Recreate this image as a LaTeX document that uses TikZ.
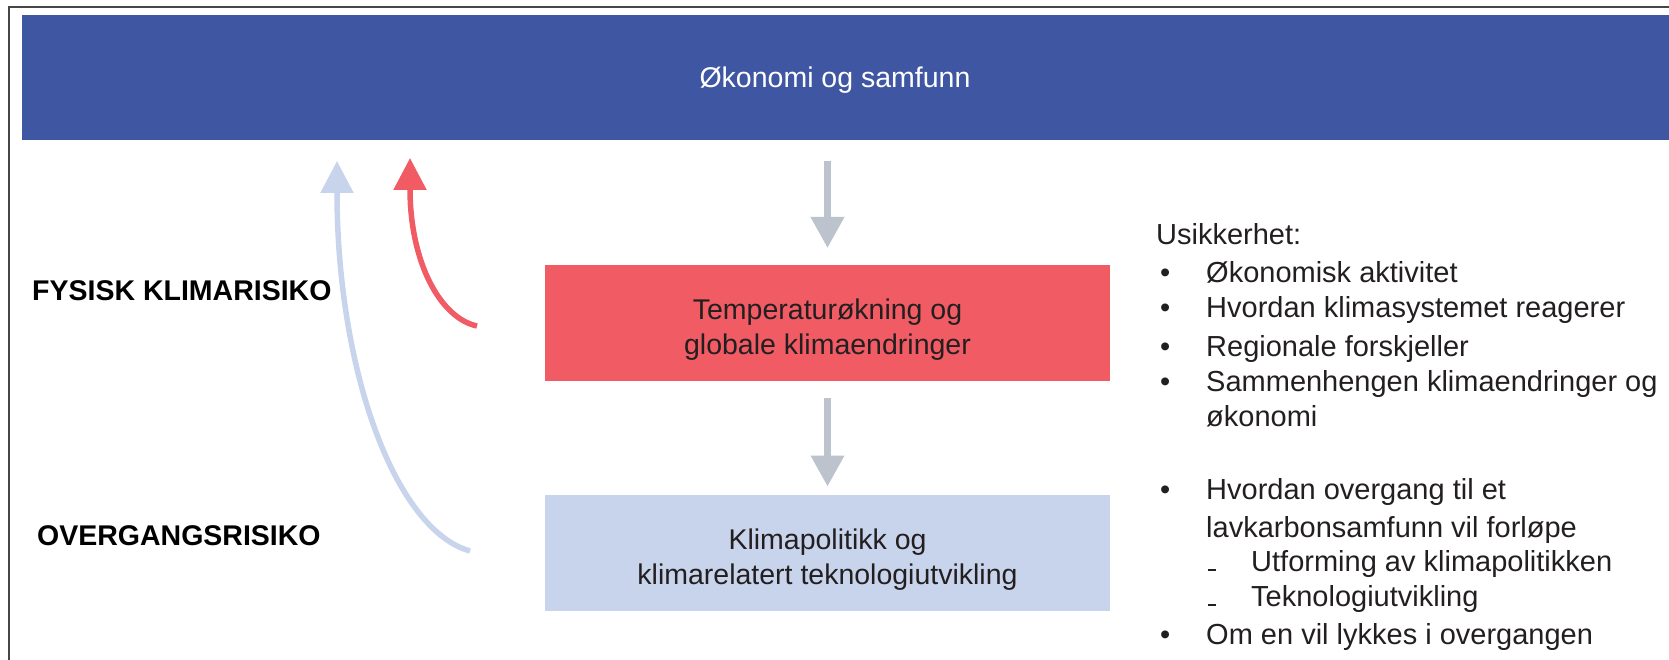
\documentclass[tikz,border=0pt]{standalone}
\usepackage{fontspec}
\setmainfont{Liberation Sans}
\usetikzlibrary{arrows.meta}
\definecolor{barblue}{RGB}{63,87,163}
\definecolor{riskred}{RGB}{240,91,100}
\definecolor{riskblue}{RGB}{200,212,235}
\definecolor{arrowgray}{RGB}{188,195,204}
\definecolor{textdark}{RGB}{35,31,32}
\definecolor{framegray}{RGB}{70,70,70}
\tikzset{
  riskbox/.style={minimum width=565pt,minimum height=116pt,inner sep=0pt,outer sep=0pt},
  boxtext/.style={inner sep=0pt,align=center,text=textdark,font=\fontsize{28.5}{35}\selectfont},
  downarrow/.style={arrowgray,line width=7pt,-{Triangle[width=32pt,length=31pt]}},
  riskarrow/.style={line width=5.5pt,-{Triangle[width=32pt,length=32pt]}},
  listtext/.style={anchor=base west,inner sep=0pt,text=textdark,font=\fontsize{29}{34}\selectfont},
  risklabel/.style={anchor=base west,inner sep=0pt,text=black,font=\fontsize{28.5}{34}\selectfont\bfseries}
}

\begin{document}
\begin{tikzpicture}[x=1pt,y=-1pt]
		\useasboundingbox (0,0) rectangle (1669,660);
		% frame
		\draw[framegray,line width=2pt] (8.5,660) -- (8.5,7) -- (1669,7);
		% top bar
		\node[fill=barblue,minimum width=1647pt,minimum height=125pt,inner sep=0pt,outer sep=0pt,anchor=north west] (bar) at (22,15) {};
		\node[anchor=base,text=white,font=\fontsize{28.5}{34}\selectfont] (bartitle) at (835,88) {Økonomi og samfunn};
		% boxes
		\node[riskbox,fill=riskred]  (temp)   at (827.5,323)   {};
		\node[riskbox,fill=riskblue] (policy) at (827.5,552.5) {};
		\node[boxtext] (temptext)   at ([yshift=-7pt]temp.center)   {Temperaturøkning og\\globale klimaendringer};
		\node[boxtext] (policytext) at ([yshift=-7pt]policy.center) {Klimapolitikk og\\klimarelatert teknologiutvikling};
		% straight arrows
		\draw[downarrow] ([yshift=-21pt]bar.south -| temp.north) -- ([yshift=17pt]temp.north);
		\draw[downarrow] ([yshift=-17pt]temp.south) -- ([yshift=8pt]policy.north);
		% risk labels
		\node[risklabel] (fysisk)    at (32,300) {FYSISK KLIMARISIKO};
		\node[risklabel] (overgang)  at (37,545) {OVERGANGSRISIKO};
		% curved arrows
		\coordinate (fysstart) at (477,326);
		\coordinate (fysend)   at (410,158);
		\coordinate (ovgstart) at (470,551);
		\coordinate (ovgend)   at (337,161);
		\draw[riskarrow,riskblue] (ovgstart) .. controls (395,530) and (337,370) .. (ovgend);
		\draw[riskarrow,riskred]  (fysstart) .. controls (440,318) and (410,262) .. (fysend);
		% uncertainty list
		\node[listtext] (usikker) at (1156,245) {Usikkerhet:};
		\foreach \y [count=\i] in {282,317,356,391,499,644}
			\node[listtext] (bullet\i) at (1160,\y) {•};
		\node[listtext] (item1) at (1206,282) {Økonomisk aktivitet};
		\node[listtext] (item2) at (1206,317) {Hvordan klimasystemet reagerer};
		\node[listtext] (item3) at (1206,356) {Regionale forskjeller};
		\node[listtext] (item4) at (1206,391) {Sammenhengen klimaendringer og};
		\node[listtext] (item4b) at (1206,426) {økonomi};
		\node[listtext] (item5) at (1206,499) {Hvordan overgang til et};
		\node[listtext] (item5b) at (1206,537) {lavkarbonsamfunn vil forløpe};
		\foreach \y [count=\i] in {571,606}
			\node[listtext] (dash\i) at (1208,\y) {\rule{7.5pt}{2pt}};
		\node[listtext] (sub1) at (1251,571) {Utforming av klimapolitikken};
		\node[listtext] (sub2) at (1251,606) {Teknologiutvikling};
		\node[listtext] (item6) at (1206,644) {Om en vil lykkes i overgangen};
	\end{tikzpicture}
\end{document}
